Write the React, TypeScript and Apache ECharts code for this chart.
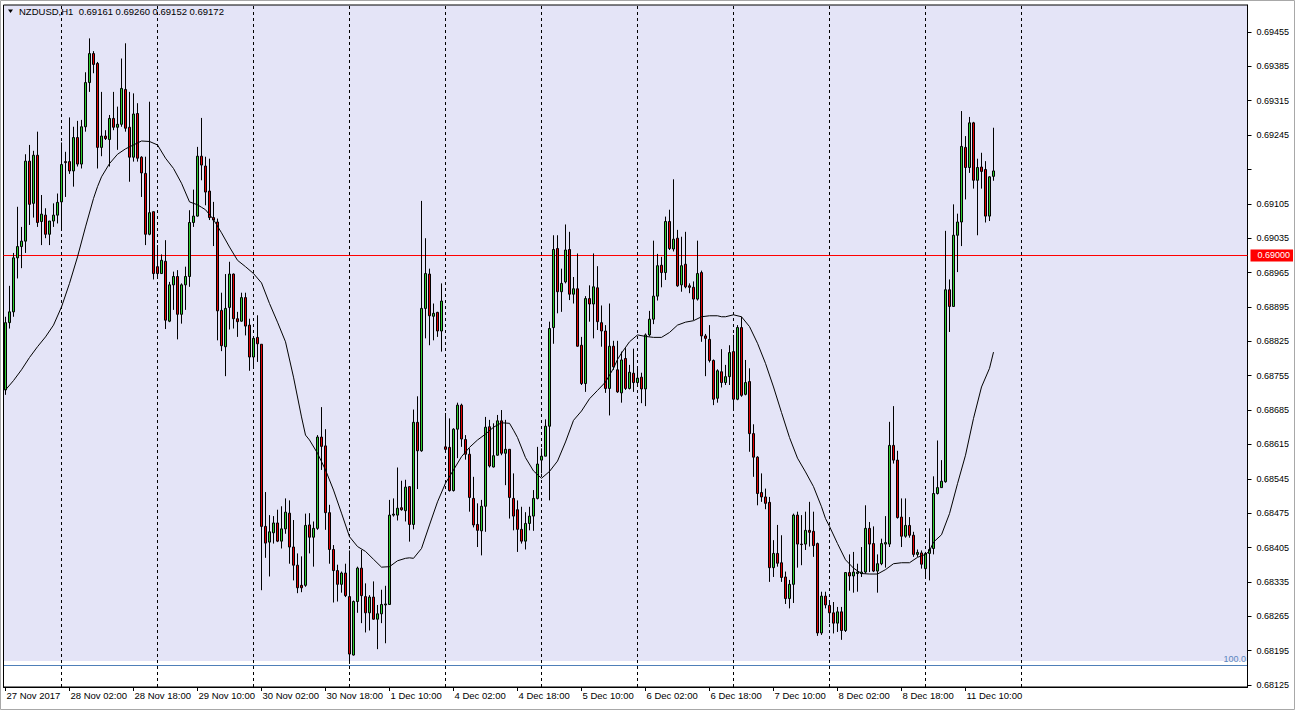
import React, { useEffect, useRef } from 'react';
import * as echarts from 'echarts';

const chartTitle = 'NZDUSD,H1  0.69161 0.69260 0.69152 0.69172';

const opens = [
  0.68726,0.68863,0.68885,0.68995,0.69018,0.69029,0.69192,0.69106,0.69204,0.69069,0.69082,0.69043,
  0.69070,0.69082,0.69109,0.69191,0.69191,0.69172,0.69240,0.69186,0.69262,0.69352,0.69411,0.69391,
  0.69220,0.69243,0.69236,0.69279,0.69261,0.69267,0.69338,0.69261,0.69200,0.69289,0.69200,0.69167,
  0.69043,0.69089,0.68977,0.68963,0.68988,0.68866,0.68940,0.68957,0.68880,0.68940,0.68957,0.69067,
  0.69080,0.69202,0.69182,0.69131,0.69077,0.69068,0.68888,0.68814,0.68894,0.68962,0.68871,0.68866,
  0.68914,0.68858,0.68793,0.68833,0.68819,0.68448,0.68416,0.68435,0.68455,0.68418,0.68443,0.68475,
  0.68406,0.68369,0.68328,0.68328,0.68451,0.68426,0.68444,0.68630,0.68612,0.68476,0.68401,0.68358,
  0.68330,0.68353,0.68305,0.68186,0.68295,0.68363,0.68305,0.68272,0.68304,0.68259,0.68270,0.68288,
  0.68289,0.68471,0.68471,0.68486,0.68480,0.68529,0.68452,0.68660,0.68602,0.68892,0.68962,0.68876,
  0.68884,0.68846,0.68610,0.68609,0.68521,0.68646,0.68695,0.68625,0.68595,0.68505,0.68452,0.68439,
  0.68489,0.68651,0.68569,0.68593,0.68663,0.68597,0.68605,0.68505,0.68482,0.68442,0.68418,0.68454,
  0.68469,0.68505,0.68583,0.68591,0.68652,0.68853,0.69014,0.68926,0.68946,0.69012,0.68921,0.68932,
  0.68817,0.68739,0.68912,0.68901,0.68934,0.68863,0.68846,0.68729,0.68815,0.68767,0.68720,0.68790,
  0.68729,0.68760,0.68741,0.68752,0.68728,0.68838,0.68870,0.68917,0.68980,0.68965,0.69069,0.69013,
  0.69035,0.68940,0.68982,0.68938,0.68935,0.68911,0.68965,0.68836,0.68829,0.68786,0.68709,0.68763,
  0.68741,0.68753,0.68804,0.68707,0.68853,0.68717,0.68743,0.68637,0.68589,0.68517,0.68508,0.68497,
  0.68364,0.68393,0.68374,0.68345,0.68301,0.68330,0.68471,0.68412,0.68412,0.68440,0.68438,0.68413,
  0.68231,0.68306,0.68287,0.68272,0.68251,0.68274,0.68236,0.68354,0.68347,0.68352,0.68352,0.68355,
  0.68444,0.68413,0.68357,0.68372,0.68412,0.68412,0.68613,0.68583,0.68467,0.68428,0.68450,0.68430,
  0.68391,0.68394,0.68362,0.68393,0.68403,0.68515,0.68527,0.68539,0.68930,0.68896,0.69041,0.69068,
  0.69220,0.69179,0.69270,0.69153,0.69180,0.69175,0.69080,0.69161,
];

const highs = [
  0.68875,0.68938,0.69005,0.69099,0.69058,0.69206,0.69225,0.69213,0.69252,0.69123,0.69096,0.69070,
  0.69106,0.69126,0.69230,0.69211,0.69281,0.69262,0.69274,0.69276,0.69373,0.69442,0.69416,0.69394,
  0.69333,0.69255,0.69286,0.69333,0.69303,0.69401,0.69432,0.69333,0.69330,0.69310,0.69202,0.69201,
  0.69313,0.69089,0.69021,0.69002,0.69031,0.68946,0.68967,0.68970,0.68943,0.68977,0.69092,0.69134,
  0.69221,0.69280,0.69201,0.69197,0.69109,0.69075,0.68924,0.68962,0.68987,0.68963,0.68885,0.68924,
  0.68924,0.68871,0.68834,0.68878,0.68819,0.68518,0.68471,0.68469,0.68482,0.68489,0.68505,0.68501,
  0.68461,0.68393,0.68387,0.68474,0.68475,0.68458,0.68634,0.68691,0.68646,0.68492,0.68410,0.68370,
  0.68356,0.68372,0.68399,0.68297,0.68366,0.68400,0.68332,0.68308,0.68336,0.68288,0.68319,0.68327,
  0.68502,0.68505,0.68568,0.68541,0.68543,0.68530,0.68686,0.68713,0.69111,0.69035,0.68973,0.68902,
  0.68885,0.68943,0.68679,0.68668,0.68648,0.68700,0.68698,0.68634,0.68607,0.68549,0.68495,0.68502,
  0.68671,0.68665,0.68658,0.68675,0.68685,0.68665,0.68605,0.68556,0.68501,0.68488,0.68477,0.68488,
  0.68522,0.68610,0.68607,0.68666,0.68865,0.69041,0.69041,0.68973,0.69063,0.69048,0.68956,0.69004,
  0.68834,0.68917,0.68939,0.69004,0.68978,0.68898,0.68858,0.68902,0.68826,0.68826,0.68804,0.68811,
  0.68777,0.68810,0.68773,0.68761,0.68841,0.68887,0.69030,0.69003,0.68997,0.69079,0.69093,0.69155,
  0.69052,0.69038,0.69048,0.68943,0.68947,0.69030,0.68969,0.68840,0.68858,0.68788,0.68768,0.68809,
  0.68777,0.68817,0.68838,0.68858,0.68875,0.68787,0.68770,0.68656,0.68591,0.68556,0.68525,0.68508,
  0.68420,0.68451,0.68430,0.68356,0.68339,0.68474,0.68478,0.68471,0.68478,0.68498,0.68478,0.68415,
  0.68315,0.68315,0.68298,0.68294,0.68284,0.68284,0.68355,0.68391,0.68396,0.68372,0.68406,0.68491,
  0.68457,0.68448,0.68391,0.68423,0.68469,0.68661,0.68693,0.68602,0.68505,0.68505,0.68467,0.68437,
  0.68401,0.68399,0.68396,0.68444,0.68550,0.68623,0.68583,0.69050,0.68951,0.69104,0.69085,0.69294,
  0.69243,0.69282,0.69272,0.69197,0.69209,0.69192,0.69161,0.69260,
];

const lows = [
  0.68716,0.68851,0.68875,0.68953,0.68974,0.69005,0.69062,0.69077,0.69058,0.69021,0.69035,0.69021,
  0.69058,0.69065,0.69055,0.69119,0.69166,0.69140,0.69181,0.69177,0.69252,0.69333,0.69371,0.69177,
  0.69202,0.69235,0.69181,0.69255,0.69215,0.69262,0.69252,0.69150,0.69191,0.69191,0.69119,0.69021,
  0.69041,0.68951,0.68953,0.68963,0.68850,0.68864,0.68889,0.68829,0.68861,0.68889,0.68936,0.69058,
  0.69079,0.69153,0.69102,0.69072,0.69019,0.68827,0.68805,0.68754,0.68849,0.68851,0.68834,0.68865,
  0.68837,0.68765,0.68773,0.68783,0.68318,0.68384,0.68346,0.68413,0.68416,0.68403,0.68433,0.68372,
  0.68338,0.68312,0.68314,0.68325,0.68393,0.68366,0.68441,0.68563,0.68441,0.68372,0.68293,0.68295,
  0.68313,0.68304,0.68168,0.68185,0.68272,0.68251,0.68232,0.68236,0.68258,0.68198,0.68251,0.68210,
  0.68288,0.68468,0.68460,0.68480,0.68458,0.68417,0.68442,0.68524,0.68600,0.68831,0.68817,0.68827,
  0.68834,0.68804,0.68598,0.68519,0.68519,0.68587,0.68610,0.68584,0.68478,0.68446,0.68406,0.68389,
  0.68437,0.68568,0.68568,0.68592,0.68593,0.68532,0.68464,0.68440,0.68396,0.68413,0.68401,0.68440,
  0.68439,0.68503,0.68556,0.68591,0.68501,0.68820,0.68882,0.68885,0.68943,0.68909,0.68902,0.68814,
  0.68736,0.68722,0.68865,0.68831,0.68848,0.68814,0.68720,0.68674,0.68767,0.68720,0.68700,0.68726,
  0.68727,0.68722,0.68736,0.68699,0.68693,0.68835,0.68860,0.68908,0.68935,0.68950,0.69011,0.69008,
  0.68936,0.68926,0.68933,0.68923,0.68868,0.68908,0.68824,0.68754,0.68782,0.68695,0.68700,0.68731,
  0.68736,0.68736,0.68688,0.68705,0.68712,0.68715,0.68600,0.68549,0.68491,0.68498,0.68483,0.68335,
  0.68345,0.68366,0.68335,0.68290,0.68281,0.68292,0.68364,0.68369,0.68400,0.68407,0.68386,0.68225,
  0.68227,0.68281,0.68251,0.68230,0.68233,0.68217,0.68233,0.68317,0.68313,0.68315,0.68345,0.68352,
  0.68355,0.68355,0.68313,0.68369,0.68364,0.68406,0.68576,0.68464,0.68406,0.68425,0.68425,0.68386,
  0.68386,0.68362,0.68345,0.68338,0.68391,0.68513,0.68527,0.68537,0.68844,0.68896,0.68966,0.69019,
  0.69114,0.69168,0.69136,0.69041,0.69136,0.69067,0.69070,0.69152,
];

const closes = [
  0.68863,0.68885,0.68995,0.69018,0.69029,0.69192,0.69104,0.69204,0.69067,0.69084,0.69043,0.69070,
  0.69082,0.69108,0.69185,0.69189,0.69172,0.69240,0.69186,0.69262,0.69352,0.69411,0.69389,0.69220,
  0.69243,0.69238,0.69279,0.69261,0.69267,0.69340,0.69259,0.69200,0.69288,0.69198,0.69168,0.69043,
  0.69087,0.68963,0.68963,0.68990,0.68868,0.68940,0.68957,0.68880,0.68940,0.68957,0.69067,0.69080,
  0.69202,0.69184,0.69129,0.69077,0.69072,0.68887,0.68816,0.68892,0.68962,0.68871,0.68865,0.68914,
  0.68856,0.68793,0.68831,0.68820,0.68448,0.68414,0.68437,0.68455,0.68418,0.68443,0.68477,0.68406,
  0.68369,0.68323,0.68323,0.68450,0.68426,0.68444,0.68630,0.68611,0.68476,0.68401,0.68358,0.68330,
  0.68353,0.68307,0.68188,0.68295,0.68363,0.68307,0.68272,0.68304,0.68259,0.68270,0.68289,0.68290,
  0.68471,0.68473,0.68485,0.68482,0.68528,0.68452,0.68660,0.68602,0.68892,0.68963,0.68877,0.68882,
  0.68846,0.68907,0.68605,0.68521,0.68646,0.68695,0.68626,0.68595,0.68507,0.68451,0.68440,0.68489,
  0.68650,0.68571,0.68592,0.68663,0.68597,0.68605,0.68507,0.68469,0.68442,0.68418,0.68454,0.68469,
  0.68505,0.68575,0.68591,0.68652,0.68851,0.69012,0.68926,0.68943,0.69011,0.68921,0.68932,0.68815,
  0.68739,0.68912,0.68901,0.68936,0.68865,0.68846,0.68729,0.68815,0.68773,0.68722,0.68787,0.68729,
  0.68762,0.68741,0.68750,0.68728,0.68838,0.68870,0.68917,0.68979,0.68965,0.69069,0.69014,0.69033,
  0.68938,0.68979,0.68936,0.68935,0.68911,0.68963,0.68836,0.68831,0.68786,0.68707,0.68765,0.68741,
  0.68753,0.68802,0.68707,0.68853,0.68715,0.68741,0.68637,0.68589,0.68515,0.68508,0.68495,0.68364,
  0.68393,0.68373,0.68344,0.68301,0.68330,0.68471,0.68412,0.68411,0.68440,0.68436,0.68409,0.68231,
  0.68306,0.68288,0.68272,0.68251,0.68274,0.68236,0.68354,0.68347,0.68355,0.68355,0.68355,0.68444,
  0.68412,0.68357,0.68372,0.68413,0.68415,0.68613,0.68583,0.68466,0.68428,0.68450,0.68430,0.68391,
  0.68395,0.68371,0.68393,0.68401,0.68515,0.68527,0.68540,0.68930,0.68896,0.69041,0.69068,0.69222,
  0.69179,0.69270,0.69153,0.69179,0.69171,0.69080,0.69160,0.69172,
];

// moving average: [bar number (1-based), value]
const maPoints: [number, number][] = [
  [1,0.68726],[3,0.68745],[5,0.68767],[7,0.68792],[9,0.68814],[11,0.68834],[13,0.68858],[15,0.68895],
  [17,0.68943],[19,0.68997],[21,0.69058],[23,0.69116],[24,0.69140],[25,0.69160],[27,0.69187],[29,0.69206],
  [31,0.69217],[33,0.69225],[35,0.69233],[37,0.69232],[39,0.69225],[41,0.69198],[43,0.69177],[45,0.69147],
  [47,0.69109],[49,0.69103],[50,0.69098],[51,0.69093],[53,0.69073],[55,0.69046],[57,0.69017],[59,0.68990],
  [61,0.68977],[63,0.68963],[65,0.68944],[67,0.68902],[69,0.68864],[71,0.68824],[73,0.68752],[75,0.68671],
  [76,0.68634],[77,0.68624],[79,0.68597],[81,0.68563],[83,0.68522],[85,0.68475],[87,0.68427],[89,0.68407],
  [91,0.68397],[93,0.68381],[95,0.68365],[97,0.68366],[99,0.68378],[101,0.68383],[102,0.68384],[103,0.68383],
  [105,0.68403],[107,0.68451],[109,0.68498],[111,0.68536],[113,0.68563],[115,0.68590],[117,0.68609],[119,0.68624],
  [121,0.68636],[123,0.68650],[125,0.68659],[127,0.68658],[128,0.68644],[129,0.68629],[131,0.68588],[133,0.68561],
  [135,0.68546],[137,0.68560],[139,0.68581],[141,0.68620],[143,0.68664],[145,0.68683],[147,0.68708],[149,0.68725],
  [151,0.68742],[153,0.68770],[154,0.68788],[155,0.68801],[157,0.68824],[159,0.68838],[161,0.68835],[163,0.68833],
  [165,0.68833],[167,0.68843],[169,0.68858],[171,0.68864],[173,0.68867],[175,0.68875],[177,0.68877],[179,0.68877],
  [180,0.68875],[181,0.68875],[183,0.68879],[185,0.68875],[187,0.68855],[189,0.68821],[191,0.68780],[193,0.68732],
  [195,0.68680],[197,0.68629],[199,0.68587],[201,0.68559],[203,0.68529],[205,0.68488],[206,0.68464],[207,0.68448],
  [209,0.68413],[211,0.68380],[213,0.68363],[215,0.68352],[217,0.68351],[219,0.68351],[221,0.68360],[223,0.68372],
  [225,0.68374],[227,0.68374],[229,0.68385],[231,0.68391],[232,0.68398],[233,0.68416],[235,0.68431],[237,0.68474],
  [239,0.68535],[241,0.68593],[243,0.68668],[245,0.68732],[247,0.68770],[248,0.68803],
];

const xTickLabels = [
  '27 Nov 2017', '28 Nov 02:00', '28 Nov 18:00', '29 Nov 10:00', '30 Nov 02:00', '30 Nov 18:00',
  '1 Dec 10:00', '4 Dec 02:00', '4 Dec 18:00', '5 Dec 10:00', '6 Dec 02:00', '6 Dec 18:00',
  '7 Dec 10:00', '8 Dec 02:00', '8 Dec 18:00', '11 Dec 10:00',
];
const xTickEvery = 16;

const yTickMarks = [
  0.68125, 0.68195, 0.68265, 0.68335, 0.68405, 0.68475, 0.68545, 0.68615, 0.68685, 0.68755,
  0.68825, 0.68895, 0.68965, 0.69035, 0.69105, 0.69175, 0.69245, 0.69315, 0.69385, 0.69455,
];
const yTickLabels = [
  0.68125, 0.68195, 0.68265, 0.68335, 0.68405, 0.68475, 0.68545, 0.68615, 0.68685, 0.68755,
  0.68825, 0.68895, 0.68965, 0.69035, 0.69105, 0.69245, 0.69315, 0.69385, 0.69455,
];

const levelPrice = 0.69;
const indicatorLevel = '100.0';
const yMin = 0.681209;
const yMax = 0.6951;
const totalSlots = 311;
const barsPerDay = 24;

const MONTHS = ['Jan','Feb','Mar','Apr','May','Jun','Jul','Aug','Sep','Oct','Nov','Dec'];
function buildCategories(): string[] {
  const out: string[] = [];
  let t = Date.UTC(2017, 10, 27, 10);
  while (out.length < totalSlots) {
    const d = new Date(t);
    const wd = d.getUTCDay();
    if (wd !== 0 && wd !== 6) {
      const hh = String(d.getUTCHours()).padStart(2, '0');
      out.push(`${d.getUTCDate()} ${MONTHS[d.getUTCMonth()]} ${hh}:00`);
    }
    t += 3600000;
  }
  return out;
}

const FONT = '"Liberation Sans", Arial, sans-serif';

export default function App() {
  const ref = useRef<HTMLDivElement>(null);
  useEffect(() => {
    document.body.style.margin = '0';
    if (!ref.current) return;
    const chart = echarts.init(ref.current, undefined, { renderer: 'svg' });
    const categories = buildCategories();
    const barCount = opens.length;
    const candles = opens.map((o, i) => [o, closes[i], lows[i], highs[i]]);
    const lastClose = closes[barCount - 1];
    const showTick = (i: number) => i % xTickEvery === 0 && i < barCount;
    const separators = categories
      .map((c, i) => ({ c, i }))
      .filter(({ c, i }) => c.endsWith(' 00:00') && i < barCount + barsPerDay)
      .map(({ c }) => ({ xAxis: c, label: { show: false }, lineStyle: { color: '#000', width: 1, type: [3, 3] } }));

    const option: any = {
      animation: false,
      backgroundColor: '#ffffff',
      textStyle: { fontFamily: FONT },
      title: {
        text: chartTitle,
        left: 19,
        top: 6,
        padding: 0,
        textStyle: { fontSize: 9.5, fontWeight: 'normal', color: '#000', fontFamily: FONT },
      },
      grid: {
        left: 3.5,
        right: 47.5,
        top: 5,
        bottom: 23,
        show: true,
        borderColor: '#000',
        borderWidth: 1,
        backgroundColor: 'transparent',
      },
      graphic: [
        { type: 'rect', z: -10, silent: true, shape: { x: 3.5, y: 5, width: 1244, height: 656 }, style: { fill: '#E4E4F7' } },
        { type: 'line', z: 1, silent: true, shape: { x1: 4, y1: 665.5, x2: 1247, y2: 665.5 }, style: { stroke: '#4F7FB8', lineWidth: 1 } },
        { type: 'text', z: 5, silent: true, x: 1246, y: 659, style: { text: indicatorLevel, fill: '#5A86C0', fontSize: 9, fontFamily: FONT, textAlign: 'right', textVerticalAlign: 'middle' } },
        { type: 'polygon', z: 5, silent: true, shape: { points: [[8, 9.5], [13, 9.5], [10.5, 13]] }, style: { fill: '#000' } },
        { type: 'rect', z: 20, silent: true, shape: { x: 0.5, y: 0.5, width: 1294, height: 709 }, style: { fill: 'none', stroke: '#A8A8A8', lineWidth: 1 } },
      ],
      xAxis: {
        type: 'category',
        data: categories,
        boundaryGap: true,
        axisLine: { show: true, lineStyle: { color: '#000', width: 1 } },
        axisTick: { show: true, alignWithLabel: true, length: 4, interval: (i: number) => showTick(i), lineStyle: { color: '#000' } },
        axisLabel: {
          interval: (i: number) => showTick(i),
          formatter: (_v: string, i: number) => xTickLabels[Math.round(i / xTickEvery)] ?? '',
          align: 'left',
          margin: 3,
          fontSize: 9.5,
          color: '#000',
          fontFamily: FONT,
          padding: [0, 0, 0, 1],
        },
        splitLine: { show: false },
      },
      yAxis: {
        type: 'value',
        position: 'right',
        min: yMin,
        max: yMax,
        scale: true,
        axisLine: { show: true, lineStyle: { color: '#000', width: 1 } },
        axisTick: { show: true, length: 4, customValues: yTickMarks, lineStyle: { color: '#000' } },
        axisLabel: {
          customValues: yTickLabels,
          formatter: (v: number) => v.toFixed(5),
          margin: 9,
          fontSize: 9,
          color: '#000',
          fontFamily: FONT,
        },
        splitLine: { show: false },
      },
      series: [
        {
          type: 'candlestick',
          data: candles,
          barWidth: 2,
          z: 3,
          itemStyle: {
            color: '#2ECC2E',
            color0: '#E00000',
            borderColor: '#000',
            borderColor0: '#000',
            borderWidth: 1,
          },
          markLine: {
            silent: true,
            symbol: ['none', 'none'],
            animation: false,
            z: 2,
            data: [
              ...separators,
              {
                yAxis: levelPrice,
                lineStyle: { color: '#FF0000', width: 1, type: 'solid' },
                label: {
                  show: true,
                  position: 'end',
                  distance: 3,
                  formatter: levelPrice.toFixed(5),
                  backgroundColor: '#FF0000',
                  color: '#fff',
                  fontSize: 9,
                  fontFamily: FONT,
                  padding: [2, 3, 1, 7],
                },
              },
              {
                yAxis: lastClose,
                lineStyle: { color: '#000', width: 0, opacity: 0 },
                label: {
                  show: true,
                  position: 'end',
                  distance: 3,
                  formatter: lastClose.toFixed(5),
                  backgroundColor: '#000',
                  color: '#fff',
                  fontSize: 9,
                  fontFamily: FONT,
                  padding: [2, 3, 1, 7],
                },
              },
            ],
          },
        },
        {
          type: 'line',
          data: maPoints.map(([b, v]) => [b - 1, v]),
          showSymbol: false,
          symbol: 'none',
          z: 4,
          lineStyle: { color: '#000', width: 1 },
        },
      ],
    };
    chart.setOption(option);
    return () => chart.dispose();
  }, []);
  return (
    <div
      ref={ref}
      style={{ position: 'absolute', left: 0, top: 0, width: 1295, height: 710, background: '#fff' }}
    />
  );
}
